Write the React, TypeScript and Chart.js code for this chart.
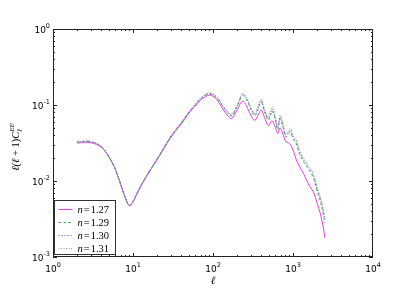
import React, { useEffect, useRef } from "react";
import { Chart, registerables } from "chart.js";
Chart.register(...registerables);

// multipole moments (shared sampling of all curves)
const ell = [2, 3, 4, 5, 6, 7, 8, 9, 10, 12, 15, 20, 30, 40, 50, 60, 70, 80, 90, 100, 115, 135, 150, 170, 200, 235, 270, 300, 335, 370, 400, 440, 490, 520, 550, 600, 645, 690, 740, 810, 870, 930, 1000, 1100, 1200, 1400, 1600, 1800, 2000, 2200, 2400, 2500];

const cl127 = [0.0316, 0.0318, 0.0278, 0.0207, 0.0143, 0.009, 0.006, 0.0047, 0.0053, 0.0078, 0.0118, 0.0189, 0.038, 0.056, 0.078, 0.097, 0.116, 0.128, 0.135, 0.131, 0.113, 0.086, 0.074, 0.066, 0.086, 0.113, 0.091, 0.072, 0.063, 0.076, 0.086, 0.069, 0.053, 0.058, 0.062, 0.051, 0.042, 0.05, 0.043, 0.033, 0.032, 0.03, 0.0256, 0.019, 0.0157, 0.0117, 0.0086, 0.0072, 0.0051, 0.0037, 0.0024, 0.0018];
const cl129 = [0.0327, 0.0329, 0.0282, 0.0209, 0.0144, 0.0091, 0.0061, 0.0048, 0.0054, 0.008, 0.012, 0.0193, 0.039, 0.0575, 0.08, 0.1, 0.12, 0.133, 0.139, 0.136, 0.119, 0.093, 0.08, 0.072, 0.094, 0.133, 0.111, 0.085, 0.072, 0.092, 0.109, 0.082, 0.063, 0.072, 0.084, 0.064, 0.047, 0.066, 0.054, 0.038, 0.041, 0.044, 0.036, 0.031, 0.023, 0.017, 0.0138, 0.011, 0.0075, 0.0054, 0.0036, 0.0028];
const cl130 = [0.0329, 0.0331, 0.0284, 0.021, 0.0145, 0.0092, 0.0061, 0.0048, 0.0054, 0.008, 0.0121, 0.0195, 0.0395, 0.058, 0.081, 0.102, 0.122, 0.136, 0.142, 0.139, 0.122, 0.095, 0.082, 0.074, 0.097, 0.139, 0.116, 0.089, 0.075, 0.096, 0.115, 0.086, 0.066, 0.076, 0.089, 0.067, 0.049, 0.07, 0.057, 0.04, 0.043, 0.047, 0.038, 0.033, 0.0245, 0.018, 0.0146, 0.0117, 0.008, 0.0058, 0.0039, 0.0031];
const cl131 = [0.033, 0.0332, 0.0285, 0.021, 0.0145, 0.0092, 0.0061, 0.0048, 0.0054, 0.0081, 0.0122, 0.0197, 0.04, 0.059, 0.082, 0.103, 0.124, 0.138, 0.144, 0.141, 0.124, 0.097, 0.084, 0.076, 0.1, 0.144, 0.12, 0.092, 0.078, 0.1, 0.12, 0.09, 0.069, 0.08, 0.094, 0.07, 0.051, 0.074, 0.06, 0.042, 0.046, 0.05, 0.04, 0.035, 0.026, 0.019, 0.0155, 0.0125, 0.0085, 0.0062, 0.0042, 0.0033];

const seriesLabels = ["1.27", "1.29", "1.30", "1.31"];
const xMajorTicks = [1, 10, 100, 1000, 10000];
const xTickExponents = ["0", "1", "2", "3", "4"];
const yMajorTicks = [0.001, 0.01, 0.1, 1];
const yTickExponents = ["-3", "-2", "-1", "0"];

const styles = [
  { color: "#e83ee8", dash: [] as number[] },
  { color: "#3aa83a", dash: [2.5, 2.5] },
  { color: "#4a4aff", dash: [1, 2] },
  { color: "#999999", dash: [1, 1.5] },
];

const SANS = "'DejaVu Sans', sans-serif";
const SERIF = "'Liberation Serif', 'DejaVu Serif', serif";

const decorPlugin = {
  id: "decor",
  afterDraw(chart: any) {
    const ctx = chart.ctx as CanvasRenderingContext2D;
    const ca = chart.chartArea;
    const xs = chart.scales.x;
    const ys = chart.scales.y;
    ctx.save();
    // frame
    ctx.strokeStyle = "#222";
    ctx.lineWidth = 1;
    ctx.strokeRect(Math.round(ca.left) + 0.5, Math.round(ca.top) + 0.5, Math.round(ca.right - ca.left) - 1, Math.round(ca.bottom - ca.top) - 1);
    // ticks
    ctx.beginPath();
    for (let d = 0; d < 4; d++) {
      for (let k = 1; k <= 9; k++) {
        const v = k * Math.pow(10, d);
        const px = Math.round(xs.getPixelForValue(v)) + 0.5;
        const len = k === 1 ? 4 : 2;
        ctx.moveTo(px, ca.bottom);
        ctx.lineTo(px, ca.bottom - len);
        ctx.moveTo(px, ca.top);
        ctx.lineTo(px, ca.top + len);
      }
    }
    for (let d = -3; d < 0; d++) {
      for (let k = 1; k <= 9; k++) {
        const v = k * Math.pow(10, d);
        const py = Math.round(ys.getPixelForValue(v)) + 0.5;
        const len = k === 1 ? 4 : 2;
        ctx.moveTo(ca.left, py);
        ctx.lineTo(ca.left + len, py);
        ctx.moveTo(ca.right, py);
        ctx.lineTo(ca.right - len, py);
      }
    }
    ctx.stroke();

    // tick labels
    ctx.fillStyle = "#000";
    ctx.textBaseline = "alphabetic";
    const baseFont = `9px ${SANS}`;
    const expFont = `6.5px ${SANS}`;
    xMajorTicks.forEach((v, i) => {
      const px = xs.getPixelForValue(v);
      ctx.font = baseFont;
      const w1 = ctx.measureText("10").width;
      ctx.font = expFont;
      const w2 = ctx.measureText(xTickExponents[i]).width;
      const x0 = px - (w1 + w2) / 2;
      ctx.font = baseFont;
      ctx.textAlign = "left";
      ctx.fillText("10", x0, ca.bottom + 15);
      ctx.font = expFont;
      ctx.fillText(xTickExponents[i], x0 + w1, ca.bottom + 10);
    });
    yMajorTicks.forEach((v, i) => {
      const py = ys.getPixelForValue(v);
      ctx.font = expFont;
      const w2 = ctx.measureText(yTickExponents[i]).width;
      ctx.font = baseFont;
      const w1 = ctx.measureText("10").width;
      const xr = ca.left - 3;
      ctx.textAlign = "left";
      ctx.fillText("10", xr - w2 - w1, py + 4);
      ctx.font = expFont;
      ctx.fillText(yTickExponents[i], xr - w2, py - 1);
    });

    // x axis title
    ctx.font = `italic 11px ${SERIF}`;
    ctx.textAlign = "center";
    ctx.fillText("ℓ", (xs.getPixelForValue(100)), ca.bottom + 27);

    // y axis title (rotated)
    ctx.save();
    ctx.translate(19, (ca.top + ca.bottom) / 2 + 4);
    ctx.rotate(-Math.PI / 2);
    const parts: [string, string][] = [
      ["ℓ(ℓ", `italic 10.5px ${SERIF}`],
      [" + ", `10.5px ${SERIF}`],
      ["1)", `10.5px ${SERIF}`],
      ["C", `italic 10.5px ${SERIF}`],
    ];
    let total = 0;
    parts.forEach(([t, f]) => { ctx.font = f; total += ctx.measureText(t).width; });
    ctx.font = `italic 7px ${SERIF}`;
    const wsub = ctx.measureText("ℓ").width;
    const wsup = ctx.measureText("EE").width;
    total += Math.max(wsub, wsup);
    let cx = -total / 2;
    ctx.textAlign = "left";
    parts.forEach(([t, f]) => {
      ctx.font = f;
      ctx.fillText(t, cx, 0);
      cx += ctx.measureText(t).width;
    });
    ctx.font = `italic 7px ${SERIF}`;
    ctx.fillText("ℓ", cx, 3);
    ctx.fillText("EE", cx, -5);
    ctx.restore();

    // legend
    const lx = ca.left + 1.5, ly = 200.5, lw = 61, lh = 54;
    ctx.fillStyle = "#fff";
    ctx.fillRect(lx, ly, lw, lh);
    ctx.strokeStyle = "#333";
    ctx.lineWidth = 1;
    ctx.strokeRect(lx, ly, lw, lh);
    seriesLabels.forEach((lab, i) => {
      const y = 209 + i * 13;
      ctx.save();
      ctx.strokeStyle = styles[i].color;
      ctx.setLineDash(styles[i].dash);
      ctx.beginPath();
      ctx.moveTo(lx + 4, y + 0.5);
      ctx.lineTo(lx + 18, y + 0.5);
      ctx.stroke();
      ctx.restore();
      ctx.fillStyle = "#000";
      ctx.textAlign = "left";
      let tx = lx + 23;
      ctx.font = `italic 10.5px ${SERIF}`;
      ctx.fillText("n", tx, y + 3.5);
      tx += ctx.measureText("n").width + 1;
      ctx.font = `10.5px ${SERIF}`;
      ctx.fillText("=", tx, y + 3.5);
      tx += ctx.measureText("=").width + 1;
      ctx.fillText(lab, tx, y + 3.5);
    });
    ctx.restore();
  },
};

export default function App() {
  const ref = useRef<HTMLCanvasElement | null>(null);
  useEffect(() => {
    if (!ref.current) return;
    const series = [cl127, cl129, cl130, cl131];
    const chart = new Chart(ref.current, {
      type: "line",
      data: {
        datasets: series.map((arr, i) => ({
          label: "n=" + seriesLabels[i],
          data: ell.map((x, j) => ({ x, y: arr[j] })),
          borderColor: styles[i].color,
          borderDash: styles[i].dash,
          borderWidth: 1,
          pointRadius: 0,
          fill: false,
          tension: 0.35,
          order: series.length - i,
        })),
      },
      options: {
        animation: false,
        responsive: false,
        devicePixelRatio: 1,
        layout: { padding: { top: 29, right: 42, left: 0, bottom: 0 } },
        plugins: { legend: { display: false }, tooltip: { enabled: false } },
        scales: {
          x: {
            type: "logarithmic",
            min: 1,
            max: 10000,
            grid: { display: false },
            border: { display: false },
            ticks: { display: false },
            afterFit: (s: any) => { s.height = 31; },
          },
          y: {
            type: "logarithmic",
            min: 0.001,
            max: 1,
            grid: { display: false },
            border: { display: false },
            ticks: { display: false },
            afterFit: (s: any) => { s.width = 53; },
          },
        },
      },
      plugins: [decorPlugin],
    } as any);
    return () => chart.destroy();
  }, []);
  return (
    <div style={{ position: "absolute", left: 0, top: 0, width: 415, height: 288, background: "#fff" }}>
      <canvas ref={ref} width={415} height={288} style={{ width: 415, height: 288, display: "block" }} />
    </div>
  );
}
